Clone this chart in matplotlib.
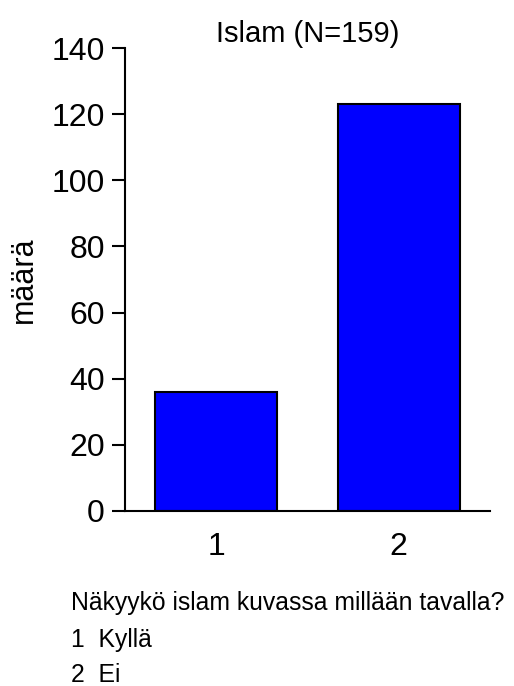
import matplotlib.pyplot as plt

plt.rcParams['font.family'] = ['Liberation Sans', 'DejaVu Sans']

# data
categories = ["1", "2"]
counts = [36, 123]
title = "Islam (N=159)"
question = "Näkyykö islam kuvassa millään tavalla?"
answer_labels = ["1  Kyllä", "2  Ei"]
y_ticks = [0, 20, 40, 60, 80, 100, 120, 140]

fig = plt.figure(figsize=(5.14, 6.86), dpi=100)
ax = fig.add_axes([125 / 514, 1 - 511 / 686, 365 / 514, 463 / 686])

x = list(range(1, len(categories) + 1))
ax.bar(x, counts, width=0.67, color="#0000ff", edgecolor="black", linewidth=1.5)

ax.set_xlim(0.5, 2.5)
ax.set_ylim(0, 140)
ax.set_xticks(x)
ax.set_xticklabels(categories)
ax.set_yticks(y_ticks)

for s in ["top", "right"]:
    ax.spines[s].set_visible(False)
ax.spines["left"].set_linewidth(1.5)
ax.spines["bottom"].set_linewidth(1.5)

ax.tick_params(axis="y", length=9.5, width=1.5, pad=5, labelsize=23)
ax.tick_params(axis="x", length=0, pad=15, labelsize=23)

ax.set_ylabel("määrä", fontsize=22, labelpad=9)
ax.set_title(title, fontsize=21, pad=2)

# question text under the chart
fig.text(71 / 514, 1 - 610 / 686, question, fontsize=17.8, va="baseline", ha="left")
for i, lab in enumerate(answer_labels):
    fig.text(71 / 514, 1 - (647 + 35 * i) / 686, lab, fontsize=17.8, va="baseline", ha="left")

fig.savefig("out.png", dpi=100)
